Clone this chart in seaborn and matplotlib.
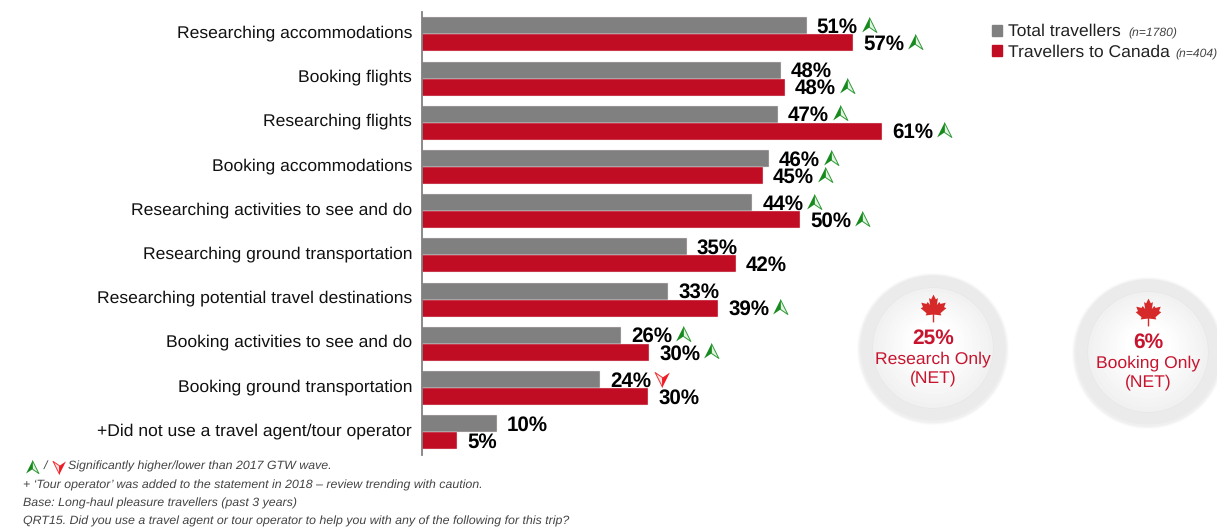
import numpy as np
import pandas as pd
import matplotlib
matplotlib.use("Agg")
import matplotlib.pyplot as plt
from matplotlib.patches import Circle, Patch
from matplotlib.path import Path
from matplotlib.transforms import ScaledTranslation
import seaborn as sns

categories = ["Researching accommodations", "Booking flights", "Researching flights",
              "Booking accommodations", "Researching activities to see and do",
              "Researching ground transportation", "Researching potential travel destinations",
              "Booking activities to see and do", "Booking ground transportation",
              "+Did not use a travel agent/tour operator"]
total_values = [51.0, 47.6, 47.2, 46.0, 43.8, 35.1, 32.6, 26.4, 23.6, 9.9]
canada_values = [57.2, 48.1, 61.0, 45.2, 50.1, 41.6, 39.3, 30.1, 30.0, 4.6]
total_flags = ["up", "", "up", "up", "up", "", "", "up", "down", ""]
canada_flags = ["up", "up", "up", "up", "up", "", "up", "up", "", ""]
series_names = ["Total travellers", "Travellers to Canada"]
series_n = ["(n=1780)", "(n=404)"]
series_colors = ["#808080", "#c00d23"]
badges = [("25%", "Research Only", "(NET)"), ("6%", "Booking Only", "(NET)")]
footnotes = ["Significantly higher/lower than 2017 GTW wave.",
             "+ \u2018Tour operator\u2019 was added to the statement in 2018 \u2013 review trending with caution.",
             "Base: Long-haul pleasure travellers (past 3 years)",
             "QRT15. Did you use a travel agent or tour operator to help you with any of the following for this trip?"]

W, H = 1217, 527
sns.set_theme(style="white")
plt.rcParams["font.family"] = ["Liberation Sans", "DejaVu Sans"]
plt.rcParams["text.hinting"] = "no_hinting"
plt.rcParams["text.hinting_factor"] = 8

df = pd.DataFrame({
    "activity": categories * 2,
    "value": total_values + canada_values,
    "series": [series_names[0]] * len(categories) + [series_names[1]] * len(categories),
})

fig = plt.figure(figsize=(W / 100, H / 100), dpi=100)
top_px, bot_px = 12, 455
ax = fig.add_axes([422 / W, 1 - bot_px / H, (W - 422) / W, (bot_px - top_px) / H])
sns.barplot(data=df, y="activity", x="value", hue="series", order=categories,
            hue_order=series_names, palette=series_colors, saturation=1,
            width=0.77, dodge=True, edgecolor="#f4e4e6", linewidth=0.3, ax=ax)
px_per_unit = 7.54
ax.set_xlim(0, (W - 422) / px_per_unit)
ax.set_ylim((bot_px - 34.4) / 44.2, (top_px - 34.4) / 44.2)
ax.set_xlabel("")
ax.set_ylabel("")
ax.set_xticks([])
ax.tick_params(axis="y", length=0, pad=7.2, labelsize=12.6, labelcolor="#111111")
for lab in ax.get_yticklabels():
    lab.set_transform(lab.get_transform() + ScaledTranslation(0, 3 / 100, fig.dpi_scale_trans))
for s in ["top", "right", "bottom"]:
    ax.spines[s].set_visible(False)
ax.spines["left"].set_color("#808080")
ax.spines["left"].set_linewidth(1.3)

up_l = Path([(0, 1), (0, -0.25), (-0.95, -0.9), (0, 1)])
up_r = Path([(0, 1), (0.95, -0.9), (0, -0.25), (0, 1)])
down_l = Path([(0, -1), (0, 0.25), (-0.95, 0.9), (0, -1)])
down_r = Path([(0, -1), (0.95, 0.9), (0, 0.25), (0, -1)])


def arrow(a, x, y, kind, size=125):
    if kind == "up":
        a.scatter([x], [y], marker=up_l, s=size, color="#178a1e", linewidths=0, zorder=5)
        a.scatter([x], [y], marker=up_r, s=size, facecolor="#e4f3e4", edgecolor="#2d9a33",
                  linewidths=0.7, zorder=5)
    else:
        a.scatter([x], [y], marker=down_l, s=size, facecolor="#fbe3e3", edgecolor="#f03030",
                  linewidths=0.7, zorder=5)
        a.scatter([x], [y], marker=down_r, s=size, color="#ee1c25", linewidths=0, zorder=5)


for cont, flags in zip(ax.containers[:2], [total_flags, canada_flags]):
    texts = ax.bar_label(cont, labels=[f"{b.get_width():.0f}%" for b in cont], padding=7.4,
                         fontsize=14.8, fontweight="bold", color="#000000", clip_on=False)
    for t in texts:
        t.xyann = (t.xyann[0], t.xyann[1] - 1.1)
        t.set_zorder(6)
    for bar, flag in zip(cont, flags):
        if flag:
            arrow(ax, bar.get_width() + 62 / px_per_unit, bar.get_y() + bar.get_height() / 2 - 0.02, flag)

leg = ax.legend(handles=[Patch(color=c, label=n) for c, n in zip(series_colors, series_names)],
                loc="upper left", bbox_to_anchor=(992 / W, 1 - 24 / H), bbox_transform=fig.transFigure,
                frameon=False, fontsize=12.6, handlelength=0.58, handleheight=0.58, handletextpad=0.36,
                labelspacing=0.28, borderpad=0, borderaxespad=0, labelcolor="#222222")

# full-figure overlay in pixel units for badges, sample sizes and notes
ov = fig.add_axes([0, 0, 1, 1], facecolor="none")
ov.set_xlim(0, W)
ov.set_ylim(H, 0)
ov.axis("off")

ov.text(1128, 33, series_n[0], fontsize=8.7, style="italic", color="#444444", va="center")
ov.text(1175, 54.5, series_n[1], fontsize=8.7, style="italic", color="#444444", va="center", clip_on=False)

half = [(0, 1), (0.17, 0.66), (0.32, 0.75), (0.24, 0.25), (0.42, 0.47), (0.5, 0.33), (0.88, 0.42),
        (0.76, 0.1), (0.92, 0.02), (0.5, -0.34), (0.56, -0.5), (0.05, -0.44), (0.05, -1.0)]
leaf = Path(half + [(-x, y) for x, y in half[::-1]] + [half[0]])
red = "#c8152f"

for (cx, cy), (pct, l1, l2) in zip([(933, 348), (1148, 352)], badges):
    for r, a in zip([76, 75, 74], [0.04, 0.06, 0.08]):
        ov.add_patch(Circle((cx, cy + 1), r, color="#aaaaaa", alpha=a, lw=0))
    ov.add_patch(Circle((cx, cy), 72.5, color="#ebebeb", lw=0))
    ov.add_patch(Circle((cx, cy), 60.5, color="#e6e6e6", lw=0))
    for r, c in zip(np.arange(60, 20, -4), np.linspace(0.945, 1.0, 10)):
        ov.add_patch(Circle((cx, cy - (60 - r) * 0.12), r, color=(c, c, c), lw=0))
    ov.scatter([cx], [cy - 40], marker=leaf, s=400, color="#d62a2a", linewidths=0, zorder=4)
    ov.text(cx, cy - 10, pct, fontsize=15, fontweight="bold", color=red, ha="center", va="center", zorder=5)
    ov.text(cx, cy + 11, l1, fontsize=12.6, color=red, ha="center", va="center", zorder=5)
    ov.text(cx, cy + 30, l2, fontsize=12.6, color=red, ha="center", va="center", zorder=5)

arrow(ov, 32, 467, "up", size=95)
ov.text(43.5, 466, "/", fontsize=8.9, style="italic", color="#444444", va="center")
arrow(ov, 59, 467, "down", size=95)
note_x = [68, 23, 23, 23]
note_y = [466, 485, 503, 521]
for x, y, t in zip(note_x, note_y, footnotes):
    ov.text(x, y, t, fontsize=8.9, style="italic", color="#444444", va="center")

fig.savefig("out.png", dpi=100, facecolor="white")
